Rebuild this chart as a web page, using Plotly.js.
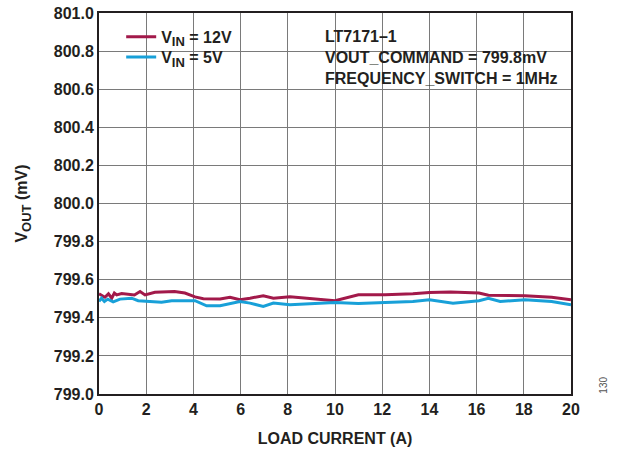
<!DOCTYPE html>
<html>
<head>
<meta charset="utf-8">
<script src="https://cdn.plot.ly/plotly-3.0.1.min.js"></script>
<style>html,body{margin:0;padding:0;background:#fff;}#chart{width:631px;height:450px;}</style>
</head>
<body>
<div id="chart"></div>
<script>
// Load current (A) and output voltage (mV) for each input voltage
var x12 = [0, 0.25, 0.4, 0.54, 0.65, 0.75, 0.96, 1.5, 1.74, 1.95, 2.37, 2.8, 3.2, 3.64, 4.07, 4.42, 5.13, 5.55, 5.97, 6.4, 6.96, 7.39, 8.09, 10.0, 10.99, 12.12, 13.3, 14.0, 14.9, 16.1, 16.5, 18.05, 19.18, 20];
var v12 = [799.526, 799.508, 799.526, 799.503, 799.53, 799.52, 799.527, 799.52, 799.538, 799.52, 799.534, 799.538, 799.538, 799.53, 799.51, 799.50, 799.499, 799.508, 799.495, 799.503, 799.516, 799.503, 799.51, 799.49, 799.521, 799.521, 799.526, 799.533, 799.535, 799.53, 799.518, 799.516, 799.508, 799.495];
var x5 = [0, 0.11, 0.23, 0.37, 0.6, 0.89, 1.38, 1.66, 2.65, 3.08, 4.07, 4.56, 5.13, 5.97, 6.4, 6.96, 7.39, 8.09, 10.0, 10.99, 12.12, 13.3, 14.0, 15.0, 16.1, 16.5, 17.0, 18.05, 19.18, 20];
var v5 = [799.486, 799.503, 799.486, 799.498, 799.484, 799.498, 799.503, 799.49, 799.482, 799.49, 799.49, 799.463, 799.463, 799.486, 799.477, 799.46, 799.477, 799.468, 799.48, 799.475, 799.48, 799.486, 799.495, 799.477, 799.49, 799.503, 799.486, 799.495, 799.486, 799.468];
var seriesNames = ["V<sub><span style=\"font-size:13px\">IN</span></sub> = 12V", "V<sub><span style=\"font-size:13px\">IN</span></sub> = 5V"];
var xTicks = [0, 2, 4, 6, 8, 10, 12, 14, 16, 18, 20];
var yTicks = [799.0, 799.2, 799.4, 799.6, 799.8, 800.0, 800.2, 800.4, 800.6, 800.8, 801.0];
var yTickText = ["799.0", "799.2", "799.4", "799.6", "799.8", "800.0", "800.2", "800.4", "800.6", "800.8", "801.0"];
var noteLines = ["LT7171–1", "VOUT_COMMAND = 799.8mV", "FREQUENCY_SWITCH = 1MHz"];

var FONT = "Liberation Sans, Arial, sans-serif";
var BOLD16 = {family: FONT, size: 16, color: "#231f20", weight: "bold"};
var traces = [
  {x: x12, y: v12, name: seriesNames[0], mode: "lines", legend: "legend", line: {color: "#a2194a", width: 3}},
  {x: x5, y: v5, name: seriesNames[1], mode: "lines", legend: "legend2", line: {color: "#18a0d8", width: 3}}
];

var legendBase = {xanchor: "left", yanchor: "top", bgcolor: "rgba(0,0,0,0)", font: BOLD16, itemwidth: 30};

var layout = {
  width: 631, height: 450,
  margin: {l: 99, r: 60, t: 13, b: 56},
  paper_bgcolor: "#fff", plot_bgcolor: "#fff",
  font: BOLD16,
  showlegend: true,
  legend: Object.assign({x: 0.047, y: 0.982}, legendBase),
  legend2: Object.assign({x: 0.047, y: 0.929}, legendBase),
  xaxis: {range: [0, 20], tickvals: xTicks, ticktext: xTicks.map(String),
          showgrid: true, gridcolor: "#7a7a7a", gridwidth: 1,
          showline: true, linecolor: "#231f20", linewidth: 2, mirror: true,
          ticks: "", zeroline: false, tickfont: BOLD16,
          title: {text: "LOAD CURRENT (A)", standoff: 16, font: BOLD16}},
  yaxis: {range: [799.0, 801.0], tickvals: yTicks, ticktext: yTickText,
          showgrid: true, gridcolor: "#7a7a7a", gridwidth: 1,
          showline: true, linecolor: "#231f20", linewidth: 2, mirror: true,
          ticks: "", zeroline: false, tickfont: BOLD16,
          title: {text: "V<sub><span style=\"font-size:13px\">OUT</span></sub> (mV)", standoff: 22, font: BOLD16}},
  shapes: [
    {type: "rect", xref: "paper", yref: "paper", x0: 0.017, x1: 0.297, y0: 0.848, y1: 0.982,
     fillcolor: "#fff", line: {width: 0}, layer: "between"},
    {type: "rect", xref: "paper", yref: "paper", x0: 0.447, x1: 0.983, y0: 0.802, y1: 0.982,
     fillcolor: "#fff", line: {width: 0}, layer: "between"}
  ],
  annotations: [
    {xref: "paper", yref: "paper", x: 0.475, y: 0.965, xanchor: "left", yanchor: "top",
     align: "left", showarrow: false,
     text: noteLines.join("<br>"), font: BOLD16},
    {xref: "paper", yref: "paper", x: 1.07, y: 0.022, xanchor: "center", yanchor: "middle",
     showarrow: false, textangle: -90, text: "130",
     font: {family: FONT, size: 10, color: "#555", weight: "normal"}}
  ]
};

Plotly.newPlot("chart", traces, layout, {displayModeBar: false, staticPlot: true});
</script>
</body>
</html>
